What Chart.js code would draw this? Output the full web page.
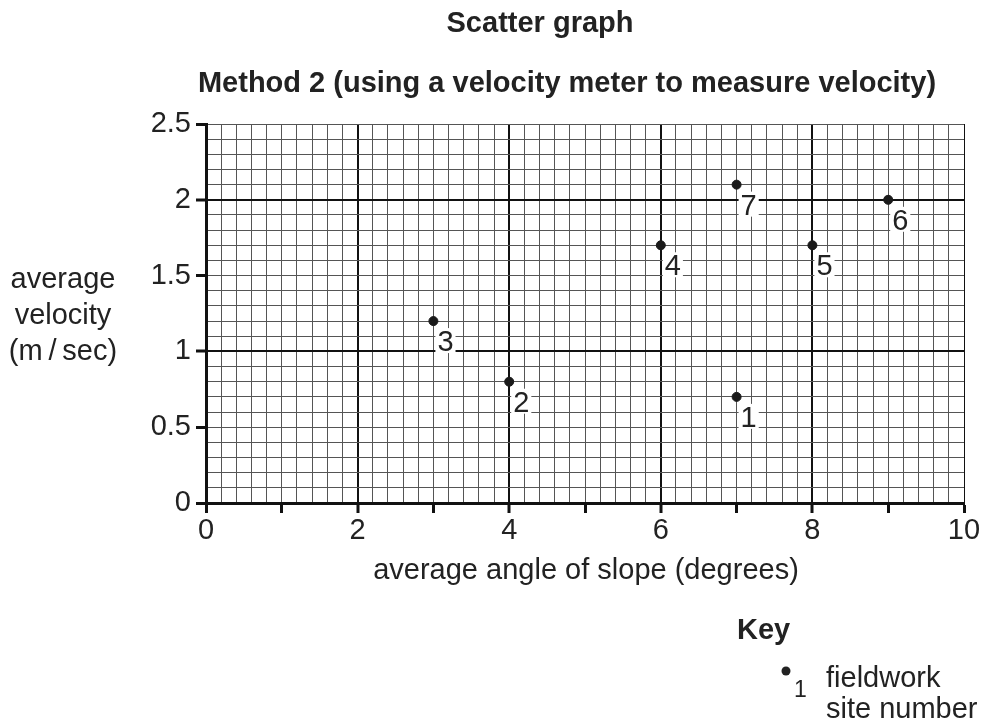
<!DOCTYPE html>
<html>
<head>
<meta charset="utf-8">
<script src="https://cdn.jsdelivr.net/npm/chart.js@4.4.0/dist/chart.umd.min.js"></script>
<style>
  html, body { margin: 0; padding: 0; background: #fff; }
  #wrap { width: 982px; height: 724px; }
</style>
</head>
<body>
<div id="wrap"><canvas id="myChart"></canvas></div>
<script>
// data
const siteNumbers = ['1', '2', '3', '4', '5', '6', '7'];
const slopeAngle = [7, 4, 3, 6, 8, 9, 7];
const avgVelocity = [0.7, 0.8, 1.2, 1.7, 1.7, 2.0, 2.1];
const xTickLabels = ['0', '2', '4', '6', '8', '10'];
const yTickLabels = ['0', '0.5', '1', '1.5', '2', '2.5'];

const FONT = "'Liberation Sans', Arial, sans-serif";
const near = (v, step) => Math.abs(v / step - Math.round(v / step)) < 1e-6;

// titles, axis titles, site numbers and key
const textPlugin = {
  id: 'textPlugin',
  afterDraw(chart) {
    const ctx = chart.ctx;
    const xs = chart.scales.x, ys = chart.scales.y;
    ctx.save();
    ctx.fillStyle = '#222';
    ctx.textAlign = 'center';
    ctx.textBaseline = 'alphabetic';
    ctx.font = 'bold 29px ' + FONT;
    ctx.fillText('Scatter graph', 540, 32);
    ctx.fillText('Method 2 (using a velocity meter to measure velocity)', 567, 92);

    ctx.font = '29px ' + FONT;
    ctx.fillText('average angle of slope (degrees)', 586, 579);
    ctx.fillText('average', 63, 288);
    ctx.fillText('velocity', 63, 324);
    ctx.fillText('(m\u2009/\u2009sec)', 63, 360);

    // site number next to each point
    ctx.textAlign = 'left';
    siteNumbers.forEach((s, i) => {
      const px = xs.getPixelForValue(slopeAngle[i]);
      const py = ys.getPixelForValue(avgVelocity[i]);
      const w = ctx.measureText(s).width;
      ctx.fillStyle = '#fff';
      ctx.fillRect(px + 2, py + 7, w + 4, 25);
      ctx.fillStyle = '#222';
      ctx.fillText(s, px + 4, py + 30);
    });

    // key
    ctx.font = 'bold 29px ' + FONT;
    ctx.fillText('Key', 737, 639);
    ctx.beginPath();
    ctx.arc(786, 671, 4.5, 0, Math.PI * 2);
    ctx.fill();
    ctx.font = '23px ' + FONT;
    ctx.fillText('1', 794, 697);
    ctx.font = '29px ' + FONT;
    ctx.fillText('fieldwork', 826, 687);
    ctx.fillText('site number', 826, 718);
    ctx.restore();
  }
};

let chart = document.getElementById('myChart').getContext('2d');

let myChart = new Chart(chart, {
  type: 'scatter',
  data: {
    datasets: [{
      data: slopeAngle.map((x, i) => ({ x: x, y: avgVelocity[i] })),
      backgroundColor: '#1a1a1a',
      borderColor: '#1a1a1a',
      pointRadius: 4.5,
      pointHoverRadius: 4.5
    }]
  },
  options: {
    responsive: true,
    maintainAspectRatio: false,
    animation: false,
    layout: { padding: { left: 0, right: 18, top: 124, bottom: 0 } },
    plugins: {
      legend: { display: false },
      tooltip: { enabled: false }
    },
    scales: {
      x: {
        type: 'linear',
        min: 0,
        max: 10,
        afterFit: (scale) => { scale.height = 221; },
        ticks: {
          stepSize: 0.2,
          maxTicksLimit: 100,
          autoSkip: false,
          maxRotation: 0,
          padding: 1,
          color: '#222',
          font: { family: FONT, size: 29 },
          callback: (v) => near(v, 2) ? xTickLabels[Math.round(v / 2)] : ''
        },
        grid: {
          color: (c) => near(c.tick.value, 2) ? '#111' : '#555',
          lineWidth: (c) => (near(c.tick.value, 2) && c.tick.value > 0.1 && c.tick.value < 9.9) ? 2 : 1,
          tickLength: 10,
          tickColor: (c) => near(c.tick.value, 1) ? '#111' : 'rgba(0,0,0,0)',
          tickWidth: 3
        },
        border: { display: true, color: '#111', width: 3 }
      },
      y: {
        type: 'linear',
        min: 0,
        max: 2.5,
        afterFit: (scale) => { scale.width = 206; },
        ticks: {
          stepSize: 0.1,
          maxTicksLimit: 100,
          autoSkip: false,
          padding: 5,
          color: '#222',
          font: { family: FONT, size: 29 },
          callback: (v) => near(v, 0.5) ? yTickLabels[Math.round(v / 0.5)] : ''
        },
        grid: {
          color: (c) => near(c.tick.value, 1) ? '#111' : '#555',
          lineWidth: (c) => (near(c.tick.value, 1) && c.tick.value > 0.1) ? 2 : 1,
          tickLength: 10,
          tickColor: (c) => near(c.tick.value, 0.5) ? '#111' : 'rgba(0,0,0,0)',
          tickWidth: 3
        },
        border: { display: true, color: '#111', width: 3 }
      }
    }
  },
  plugins: [textPlugin]
});
</script>
</body>
</html>
